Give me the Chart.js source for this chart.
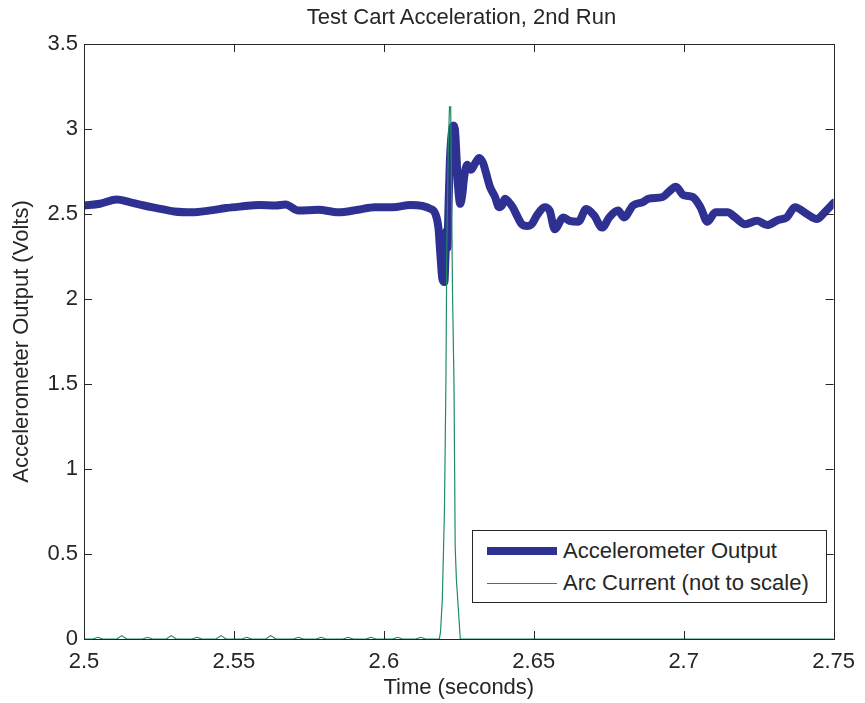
<!DOCTYPE html>
<html>
<head>
<meta charset="utf-8">
<script src="https://cdn.jsdelivr.net/npm/chart.js@4"></script>
<style>
  html, body { margin: 0; padding: 0; background: #fff; }
  #wrap { position: relative; width: 865px; height: 703px; font-family: "Liberation Sans", Arial, sans-serif; }
  #chart { position: absolute; left: 0; top: 0; }
  #title {
    position: absolute; left: 84px; width: 755px; top: 4px; text-align: center;
    font-size: 22px; line-height: 26px; color: #262626; white-space: nowrap;
  }
  #legend {
    position: absolute; left: 472px; top: 530px; width: 355px; height: 73px;
    border: 1px solid #262626; background: #fff; box-sizing: border-box;
  }
  .row { position: absolute; left: 0; height: 30px; width: 100%; }
  .swatch { position: absolute; left: 14px; width: 70px; }
  .lbl { position: absolute; left: 90px; font-size: 22px; color: #262626; line-height: 30px; white-space: nowrap; }
</style>
</head>
<body>
<div id="wrap">
  <canvas id="chart" width="865" height="703"></canvas>
  <div id="title">Test Cart Acceleration, 2nd Run</div>
  <div id="legend"></div>
</div>
<script>
// ---- data ----
const xTickLabels = [2.5, 2.55, 2.6, 2.65, 2.7, 2.75];
const yTickLabels = [0, 0.5, 1, 1.5, 2, 2.5, 3, 3.5];

// accelerometer trace (seconds, volts)
const accelTime = [
  2.5000, 2.5053, 2.5109, 2.5152, 2.5200, 2.5242, 2.5301, 2.5361, 2.5417, 2.5474,
  2.5530, 2.5583, 2.5640, 2.5672, 2.5715, 2.5781, 2.5848, 2.5914, 2.5970, 2.6030,
  2.6089, 2.6156, 2.6172, 2.6182, 2.6189, 2.6195, 2.6202, 2.6205, 2.6209, 2.6212,
  2.6215, 2.6220, 2.6225, 2.6232, 2.6237, 2.6242, 2.6248, 2.6255, 2.6262, 2.6268,
  2.6278, 2.6291, 2.6305, 2.6318, 2.6331, 2.6341, 2.6354, 2.6371, 2.6384, 2.6394,
  2.6404, 2.6417, 2.6430, 2.6444, 2.6460, 2.6477, 2.6493, 2.6510, 2.6536, 2.6553,
  2.6570, 2.6599, 2.6619, 2.6649, 2.6675, 2.6702, 2.6728, 2.6752, 2.6781, 2.6801,
  2.6831, 2.6864, 2.6884, 2.6930, 2.6950, 2.6974, 2.7000, 2.7030, 2.7056, 2.7079,
  2.7106, 2.7146, 2.7172, 2.7205, 2.7245, 2.7278, 2.7315, 2.7344, 2.7371, 2.7411,
  2.7444, 2.7470, 2.7500
];
const accelVolts = [
  2.55, 2.56, 2.585, 2.57, 2.55, 2.535, 2.515, 2.51, 2.52, 2.535,
  2.545, 2.553, 2.55, 2.556, 2.52, 2.525, 2.51, 2.525, 2.54, 2.54,
  2.553, 2.53, 2.50, 2.42, 2.25, 2.12, 2.10, 2.22, 2.40, 2.30,
  2.50, 2.80, 2.95, 3.02, 3.00, 2.85, 2.65, 2.56, 2.62, 2.72,
  2.79, 2.76, 2.80, 2.83, 2.80, 2.74, 2.66, 2.60, 2.54, 2.55,
  2.59, 2.57, 2.54, 2.49, 2.44, 2.43, 2.44, 2.49, 2.54, 2.52,
  2.41, 2.48, 2.46, 2.455, 2.53, 2.49, 2.42, 2.48, 2.52, 2.48,
  2.55, 2.57, 2.59, 2.60, 2.63, 2.66, 2.61, 2.60, 2.54, 2.455,
  2.51, 2.51, 2.48, 2.44, 2.46, 2.435, 2.465, 2.48, 2.54, 2.50,
  2.47, 2.51, 2.565
];

// arc current (not to scale)
const arcTime = [
  2.5000, 2.5029, 2.5046, 2.5063, 2.5109, 2.5126, 2.5143, 2.5195, 2.5212, 2.5229,
  2.5274, 2.5291, 2.5308, 2.5360, 2.5377, 2.5394, 2.5440, 2.5457, 2.5474, 2.5526,
  2.5543, 2.5560, 2.5606, 2.5623, 2.5640, 2.5698, 2.5715, 2.5732, 2.5774, 2.5791,
  2.5808, 2.5864, 2.5881, 2.5898, 2.5940, 2.5957, 2.5974, 2.6029, 2.6046, 2.6063,
  2.6106, 2.6123, 2.6140, 2.6185, 2.6189, 2.6195, 2.6202, 2.6207, 2.6210, 2.6215,
  2.6219, 2.6223, 2.6226, 2.6229, 2.6234, 2.6238, 2.6242, 2.6248, 2.6255, 2.7500
];
const arcAmp = [
  0, 0, 0.01, 0, 0, 0.02, 0, 0, 0.01, 0,
  0, 0.02, 0, 0, 0.01, 0, 0, 0.02, 0, 0,
  0.01, 0, 0, 0.02, 0, 0, 0.01, 0, 0, 0.01,
  0, 0, 0.01, 0, 0, 0.01, 0, 0, 0.01, 0,
  0, 0.01, 0, 0, 0.04, 0.23, 0.74, 1.5, 2.3, 2.9,
  3.13, 3.13, 2.6, 2.05, 1.5, 0.54, 0.35, 0.19, 0, 0
];

const seriesNames = ['Accelerometer Output', 'Arc Current (not to scale)'];
const seriesColors = ['#2e3192', '#1f8a66'];

const ink = '#262626';
const font = { family: '"Liberation Sans", Arial, sans-serif', size: 22 };

// ---- MATLAB-ish box with inward ticks on all sides ----
const boxTicks = {
  id: 'boxTicks',
  afterDatasetsDraw(chart) {
    const { ctx, chartArea: a, scales } = chart;
    const len = 8;
    ctx.save();
    ctx.strokeStyle = ink;
    ctx.lineWidth = 1;
    ctx.beginPath();
    scales.x.ticks.forEach(t => {
      const px = Math.round(scales.x.getPixelForValue(t.value)) + 0.5;
      ctx.moveTo(px, a.bottom); ctx.lineTo(px, a.bottom - len);
      ctx.moveTo(px, a.top);    ctx.lineTo(px, a.top + len);
    });
    scales.y.ticks.forEach(t => {
      const py = Math.round(scales.y.getPixelForValue(t.value)) + 0.5;
      ctx.moveTo(a.left, py);  ctx.lineTo(a.left + len, py);
      ctx.moveTo(a.right, py); ctx.lineTo(a.right - len, py);
    });
    ctx.stroke();
    ctx.strokeRect(Math.round(a.left) + 0.5, Math.round(a.top) + 0.5,
                   Math.round(a.right - a.left), Math.round(a.bottom - a.top));
    ctx.restore();
  }
};

const toPoints = (xs, ys) => xs.map((x, i) => ({ x, y: ys[i] }));

new Chart(document.getElementById('chart'), {
  type: 'line',
  data: {
    datasets: [
      {
        label: seriesNames[0],
        data: toPoints(accelTime, accelVolts),
        borderColor: seriesColors[0],
        borderWidth: 8,
        pointRadius: 0,
        cubicInterpolationMode: 'monotone',
        borderJoinStyle: 'round',
        borderCapStyle: 'round',
        order: 2
      },
      {
        label: seriesNames[1],
        data: toPoints(arcTime, arcAmp),
        borderColor: seriesColors[1],
        borderWidth: 1.2,
        pointRadius: 0,
        tension: 0,
        order: 1
      }
    ]
  },
  options: {
    responsive: false,
    animation: false,
    layout: { padding: { left: 0, right: 26, top: 44, bottom: 0 } },
    plugins: {
      legend: { display: false },
      tooltip: { enabled: false },
      title: { display: false }
    },
    scales: {
      x: {
        type: 'linear',
        min: 2.5, max: 2.75,
        afterBuildTicks: (s) => { s.ticks = xTickLabels.map(v => ({ value: v })); },
        afterFit: (s) => { s.height = 64; },
        grid: { display: false, drawTicks: false },
        border: { display: false },
        ticks: { color: ink, font, padding: 10, maxRotation: 0, callback: (v) => String(v) },
        title: { display: true, text: 'Time (seconds)', color: ink, font, padding: { top: 2, bottom: 2 } }
      },
      y: {
        type: 'linear',
        min: 0, max: 3.5,
        afterBuildTicks: (s) => { s.ticks = yTickLabels.map(v => ({ value: v })); },
        afterFit: (s) => { s.width = 84; },
        grid: { display: false, drawTicks: false },
        border: { display: false },
        ticks: { color: ink, font, padding: 6, callback: (v) => String(v) },
        title: { display: true, text: 'Accelerometer Output (Volts)', color: ink, font, padding: { top: 9, bottom: 4 } }
      }
    }
  },
  plugins: [boxTicks]
});

// ---- legend (html, inside the plot) ----
const legendEl = document.getElementById('legend');
const swatchH = [8, 1];
seriesNames.forEach((name, i) => {
  const row = document.createElement('div');
  row.className = 'row';
  row.style.top = (5 + i * 32) + 'px';
  const sw = document.createElement('div');
  sw.className = 'swatch';
  sw.style.height = swatchH[i] + 'px';
  sw.style.top = (15 - swatchH[i] / 2) + 'px';
  sw.style.background = seriesColors[i];
  const lbl = document.createElement('div');
  lbl.className = 'lbl';
  lbl.textContent = name;
  row.appendChild(sw);
  row.appendChild(lbl);
  legendEl.appendChild(row);
});
</script>
</body>
</html>
